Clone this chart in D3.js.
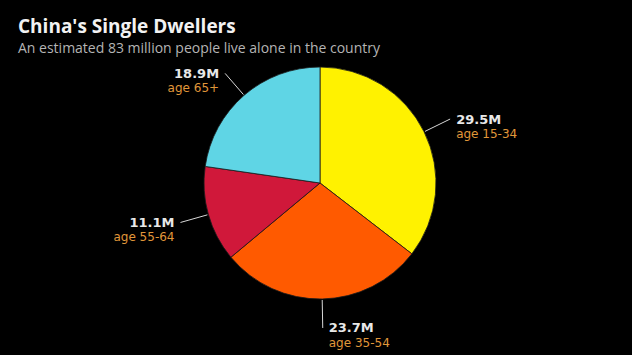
<!DOCTYPE html>
<html><head><meta charset="utf-8">
<script src="https://cdn.jsdelivr.net/npm/d3@7"></script>
<style>
html,body{margin:0;padding:0;background:#000;}
svg{display:block;}
</style></head>
<body>
<script>
const categories = ["age 15-34", "age 35-54", "age 55-64", "age 65+"];
const values = [29.5, 23.7, 11.1, 18.9];
const valueLabels = ["29.5M", "23.7M", "11.1M", "18.9M"];
const colors = ["#fff200", "#ff5a00", "#d0183a", "#5fd5e5"];

const W = 632, H = 355;
const cx = 320, cy = 183, r = 116, rOut = 145;
const font = "'Open Sans', 'DejaVu Sans', sans-serif";
const labelFont = "'DejaVu Sans', Verdana, sans-serif";

const svg = d3.select("body").append("svg").attr("width", W).attr("height", H);
svg.append("rect").attr("width", W).attr("height", H).attr("fill", "#000");

svg.append("text").attr("x", 18).attr("y", 33)
  .attr("font-family", font).attr("font-weight", 700).attr("font-size", 19)
  .attr("fill", "#f2f2f2").text("China's Single Dwellers");
svg.append("text").attr("x", 18).attr("y", 53)
  .attr("font-family", font).attr("font-size", 14)
  .attr("fill", "#b4b4b4").text("An estimated 83 million people live alone in the country");

const data = categories.map((c, i) => ({cat: c, value: values[i], label: valueLabels[i], color: colors[i]}));
const pie = d3.pie().value(d => d.value).sort(null);
const arcs = pie(data);
const arc = d3.arc().innerRadius(0).outerRadius(r);

const g = svg.append("g").attr("transform", `translate(${cx},${cy})`);
g.selectAll("path").data(arcs).join("path")
  .attr("d", arc).attr("fill", d => d.data.color)
  .attr("stroke", "#1a1a1a").attr("stroke-width", 0.8);

arcs.forEach(a => {
  const mid = (a.startAngle + a.endAngle) / 2;
  const sx = Math.sin(mid), sy = -Math.cos(mid);
  const x1 = sx * (r + 1), y1 = sy * (r + 1);
  const x2 = sx * rOut, y2 = sy * rOut;
  g.append("line").attr("x1", x1).attr("y1", y1).attr("x2", x2).attr("y2", y2)
    .attr("stroke", "#d8d8d8").attr("stroke-width", 1);
  const right = x2 >= 0;
  const tx = x2 + (right ? 6 : -6);
  const anchor = right ? "start" : "end";
  g.append("text").attr("x", tx).attr("y", y2 + 4.5)
    .attr("text-anchor", anchor).attr("font-family", labelFont).attr("font-weight", 700)
    .attr("font-size", 13).attr("fill", "#e8e8e8").text(a.data.label);
  g.append("text").attr("x", tx).attr("y", y2 + 19)
    .attr("text-anchor", anchor).attr("font-family", labelFont)
    .attr("font-size", 12).attr("fill", "#e0973a").text(a.data.cat);
});
</script>
</body></html>
